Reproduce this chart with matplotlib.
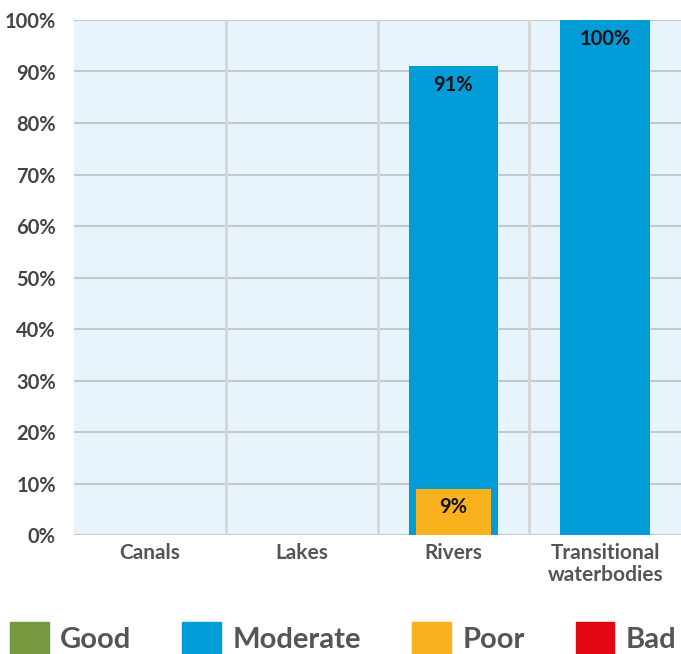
import matplotlib.pyplot as plt
import numpy as np
from matplotlib.patches import Patch

categories = ['Canals', 'Lakes', 'Rivers', 'Transitional\nwaterbodies']
moderate = [0, 0, 91, 100]
poor = [0, 0, 9, 0]
legend_labels = ['Good', 'Moderate', 'Poor', 'Bad']
legend_colors = ['#76983f', '#009cd8', '#f9b21d', '#e30613']
yticks = [0, 10, 20, 30, 40, 50, 60, 70, 80, 90, 100]


def main():
    plt.rcParams['font.family'] = ['Lato', 'DejaVu Sans']
    fig = plt.figure(figsize=(6.81, 6.54), dpi=100)
    ax = fig.add_axes([74 / 681, 1 - 535 / 654, 607 / 681, 515 / 654])
    ax.set_facecolor('#e8f4fc')

    x = np.arange(len(categories))
    ax.set_xlim(-0.5, len(categories) - 0.5)
    ax.set_ylim(0, 100)

    for y in yticks:
        ax.axhline(y, color='#c8c8c8', lw=1.5, zorder=1)
    for b in np.arange(0.5, len(categories) - 0.5):
        ax.axvline(b, color='#d6d6d6', lw=2.2, zorder=1)

    ax.bar(x, moderate, 0.59, color='#009cd8', zorder=2)
    ax.bar(x, poor, 0.49, color='#f9b21d', zorder=3)

    for i, v in enumerate(moderate):
        if v > 0:
            ax.text(x[i], v - 1.7, f'{v}%', ha='center', va='top', fontsize=14.5,
                    fontweight='bold', color='#111111', zorder=4)
    for i, v in enumerate(poor):
        if v > 0:
            ax.text(x[i], v - 1.7, f'{v}%', ha='center', va='top', fontsize=14.5,
                    fontweight='bold', color='#111111', zorder=4)

    ax.set_yticks(yticks)
    ax.set_yticklabels([f'{t}%' for t in yticks], fontsize=14.5, fontweight='bold', color='#444444')
    ax.set_xticks(x)
    ax.set_xticklabels(categories, fontsize=15, fontweight='bold', color='#555555', linespacing=1.1)
    ax.tick_params(length=0, pad=6)
    ax.tick_params(axis='y', pad=13)
    for s in ax.spines.values():
        s.set_visible(False)

    handles = [Patch(color=c) for c in legend_colors]
    fig.legend(handles, legend_labels, loc='lower left', ncol=4, frameon=False,
               bbox_to_anchor=(10 / 681, 0.0), handlelength=1.32, handleheight=1.32,
               columnspacing=1.75, handletextpad=0.4, borderaxespad=0, borderpad=0,
               prop={'size': 21, 'weight': 'bold'}, labelcolor='#555555')

    fig.savefig('out.png', dpi=100)


if __name__ == '__main__':
    main()
